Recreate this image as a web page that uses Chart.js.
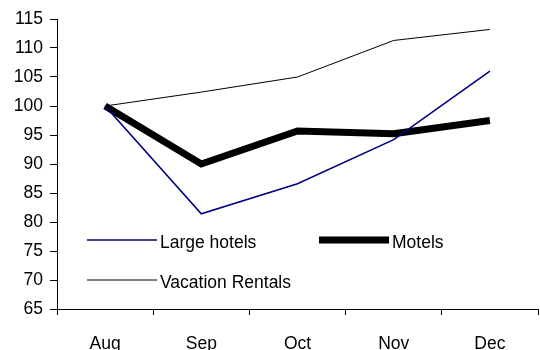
<!DOCTYPE html>
<html>
<head>
<meta charset="utf-8">
<script src="https://cdn.jsdelivr.net/npm/chart.js@4"></script>
<style>
  html, body { margin: 0; padding: 0; background: #fff; }
  #wrap { width: 540px; height: 350px; }
</style>
</head>
<body>
<div id="wrap"><canvas id="lineChart"></canvas></div>
<script>
const months = ['Aug', 'Sep', 'Oct', 'Nov', 'Dec'];
const largeHotels = [100, 81.4, 86.6, 94.2, 106];
const motels = [100, 90, 95.7, 95.2, 97.5];
const vacationRentals = [100, 102.4, 105, 111.3, 113.2];

const FONT = 'Liberation Sans, Arial, sans-serif';

// legend drawn inside the plot, two columns
const insideLegend = {
    id: 'insideLegend',
    afterDatasetsDraw(chart) {
        const ctx = chart.ctx;
        const area = chart.chartArea;
        const spots = [
            { x: area.left + 30, y: area.top + 221 },
            { x: area.left + 262, y: area.top + 221 },
            { x: area.left + 30, y: area.top + 261 }
        ];
        chart.data.datasets.forEach(function (ds, i) {
            const p = spots[i];
            ctx.save();
            ctx.strokeStyle = ds.borderColor;
            ctx.lineWidth = ds.borderWidth;
            ctx.beginPath();
            ctx.moveTo(p.x, p.y);
            ctx.lineTo(p.x + 70, p.y);
            ctx.stroke();
            ctx.fillStyle = '#000';
            ctx.font = '17.5px ' + FONT;
            ctx.textBaseline = 'middle';
            ctx.fillText(ds.label, p.x + 73, p.y + 3);
            ctx.restore();
        });
    }
};

const config = {
    type: 'line',
    data: {
        labels: months,
        datasets: [{
            label: 'Large hotels',
            data: largeHotels,
            borderColor: '#000080',
            borderWidth: 1.6
        }, {
            label: 'Motels',
            data: motels,
            borderColor: '#000',
            borderWidth: 7
        }, {
            label: 'Vacation Rentals',
            data: vacationRentals,
            borderColor: '#000',
            borderWidth: 1
        }]
    },
    options: {
        responsive: true,
        maintainAspectRatio: false,
        animation: false,
        devicePixelRatio: 1,
        layout: { padding: { top: 19, right: 2, left: 0, bottom: 0 } },
        elements: {
            point: { radius: 0 },
            line: { tension: 0, borderJoinStyle: 'miter', borderCapStyle: 'butt' }
        },
        plugins: {
            legend: { display: false },
            tooltip: { enabled: false }
        },
        scales: {
            x: {
                offset: true,
                grid: {
                    offset: true,
                    drawOnChartArea: false,
                    tickLength: 6,
                    color: '#000'
                },
                border: { color: '#000', width: 1 },
                ticks: {
                    color: '#000',
                    padding: 19,
                    maxRotation: 0,
                    font: { family: FONT, size: 17.5 }
                },
                afterFit(scale) { scale.height = 41; }
            },
            y: {
                min: 65,
                max: 115,
                grid: {
                    drawOnChartArea: false,
                    tickLength: 7,
                    color: '#000'
                },
                border: { color: '#000', width: 1 },
                ticks: {
                    stepSize: 5,
                    color: '#000',
                    padding: 7,
                    font: { family: FONT, size: 17.5 }
                },
                afterFit(scale) { scale.width = 57; }
            }
        }
    },
    plugins: [insideLegend]
};

new Chart(document.getElementById('lineChart'), config);
</script>
</body>
</html>
